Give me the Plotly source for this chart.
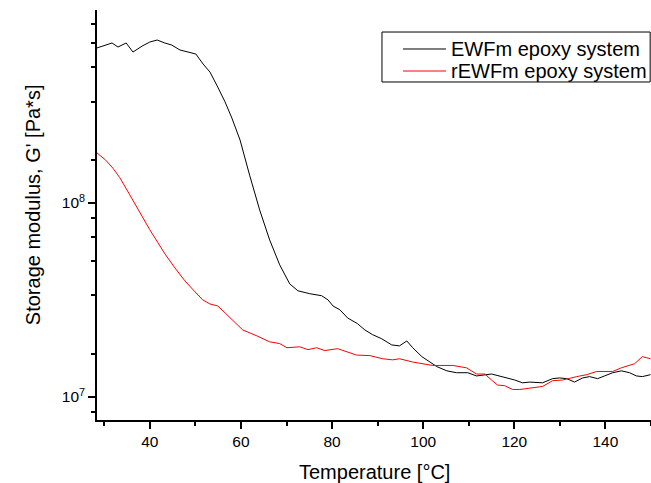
import plotly.graph_objects as go

# EWFm epoxy system
t_ewfm = [28.4, 30.2, 31.7, 33.0, 34.8, 36.3, 38.3, 40.0, 41.6, 43.3, 44.8, 46.6, 48.4, 50.1,
          51.7, 53.2, 54.9, 56.5, 58.0, 59.8, 61.9, 64.1, 66.3, 68.5, 70.7, 72.5, 75.1, 77.7,
          79.1, 80.2, 81.7, 83.4, 85.6, 87.2, 88.9, 90.9, 93.1, 94.8, 96.4, 97.7, 99.7, 101.4,
          103.0, 105.2, 107.3, 109.8, 111.7, 115.0, 117.4, 120.1, 121.8, 123.4, 126.2, 128.4,
          129.9, 131.5, 133.2, 135.0, 136.5, 138.3, 139.8, 141.6, 143.5, 145.3, 146.8, 148.1, 149.9]
g_ewfm = [6.30e8, 6.52e8, 6.68e8, 6.37e8, 6.68e8, 6.00e8, 6.44e8, 6.76e8, 6.92e8, 6.68e8, 6.52e8,
          6.15e8, 6.00e8, 5.86e8, 5.20e8, 4.73e8, 3.96e8, 3.32e8, 2.74e8, 2.11e8, 1.39e8, 9.2e7,
          6.44e7, 4.79e7, 3.82e7, 3.52e7, 3.40e7, 3.32e7, 3.16e7, 2.94e7, 2.81e7, 2.55e7, 2.38e7,
          2.21e7, 2.09e7, 1.99e7, 1.85e7, 1.83e7, 1.94e7, 1.79e7, 1.61e7, 1.51e7, 1.43e7, 1.36e7,
          1.33e7, 1.33e7, 1.28e7, 1.31e7, 1.27e7, 1.22e7, 1.18e7, 1.19e7, 1.18e7, 1.24e7, 1.25e7,
          1.24e7, 1.19e7, 1.25e7, 1.27e7, 1.24e7, 1.28e7, 1.33e7, 1.36e7, 1.33e7, 1.28e7, 1.27e7, 1.30e7]

# rEWFm epoxy system
t_rewfm = [28.4, 30.2, 31.9, 33.4, 35.6, 37.8, 40.0, 41.8, 43.3, 45.5, 47.7, 49.9, 51.6, 53.2,
           54.9, 56.5, 58.2, 60.4, 63.5, 66.3, 68.5, 70.1, 72.9, 74.7, 76.6, 78.4, 81.2, 83.2,
           85.4, 88.3, 91.1, 93.3, 94.8, 97.7, 99.9, 102.1, 106.5, 109.5, 111.7, 113.5, 115.0,
           116.3, 117.9, 119.6, 121.2, 124.0, 126.2, 128.4, 130.6, 133.7, 135.9, 138.1, 141.6,
           143.5, 146.4, 148.1, 149.9]
g_rewfm = [1.81e8, 1.67e8, 1.51e8, 1.35e8, 1.10e8, 8.87e7, 7.26e7, 6.22e7, 5.46e7, 4.62e7, 3.96e7,
           3.48e7, 3.16e7, 3.01e7, 2.94e7, 2.71e7, 2.49e7, 2.21e7, 2.06e7, 1.92e7, 1.88e7, 1.79e7,
           1.81e7, 1.75e7, 1.79e7, 1.73e7, 1.77e7, 1.71e7, 1.64e7, 1.63e7, 1.57e7, 1.55e7, 1.57e7,
           1.51e7, 1.48e7, 1.45e7, 1.45e7, 1.41e7, 1.31e7, 1.31e7, 1.22e7, 1.15e7, 1.14e7, 1.09e7,
           1.09e7, 1.11e7, 1.13e7, 1.21e7, 1.22e7, 1.27e7, 1.30e7, 1.35e7, 1.35e7, 1.41e7, 1.48e7,
           1.61e7, 1.57e7]

series_names = ["EWFm epoxy system", "rEWFm epoxy system"]
series_colors = ["black", "#ff0000"]

x_ticks = [40, 60, 80, 100, 120, 140]
x_minor = [30, 50, 70, 90, 110, 130, 150]
y_ticks = [1e7, 1e8]
y_ticktext = ["10<sup>7</sup>", "10<sup>8</sup>"]
y_minor = [8.333e6, 1.6667e7, 3.3333e7, 5e7, 6.6667e7, 8.3333e7,
           1.6667e8, 3.3333e8, 5e8, 6.6667e8, 8.3333e8]

FONT = "Liberation Sans, Arial, sans-serif"

fig = go.Figure()
for tx, gy, nm, col in [(t_ewfm, g_ewfm, series_names[0], series_colors[0]),
                        (t_rewfm, g_rewfm, series_names[1], series_colors[1])]:
    fig.add_trace(go.Scatter(x=tx, y=gy, mode="lines", name=nm,
                             line=dict(color=col, width=1), showlegend=False))

# Legend drawn as box + sample lines + text (paper coordinates)
lg_x0, lg_x1, lg_y0, lg_y1 = 0.5144, 0.9985, 0.8244, 0.9463
row_y = [0.9049, 0.8512]
fig.add_shape(type="rect", xref="paper", yref="paper", x0=lg_x0, x1=lg_x1, y0=lg_y0, y1=lg_y1,
              line=dict(color="black", width=1), fillcolor="white", layer="above")
for ry, nm, col in zip(row_y, series_names, series_colors):
    fig.add_shape(type="line", xref="paper", yref="paper", x0=0.5523, x1=0.630, y0=ry, y1=ry,
                  line=dict(color=col, width=1), layer="above")
    fig.add_annotation(xref="paper", yref="paper", x=0.6354, y=ry, text=nm, showarrow=False,
                       xanchor="left", yanchor="middle",
                       font=dict(size=20, family=FONT, color="black"))

# Axis titles
fig.add_annotation(xref="paper", yref="paper", x=0.5, y=-0.1268, text="Temperature [°C]",
                   showarrow=False, xanchor="center", yanchor="middle",
                   font=dict(size=20, family=FONT, color="black"))
fig.add_annotation(xref="paper", yref="paper", x=-0.1155, y=0.524, text="Storage modulus, G' [Pa*s]",
                   showarrow=False, xanchor="center", yanchor="middle", textangle=-90,
                   font=dict(size=20, family=FONT, color="black"))

fig.update_layout(
    width=651, height=483,
    margin=dict(l=97, r=0, t=10, b=63, autoexpand=False),
    paper_bgcolor="white", plot_bgcolor="white",
    font=dict(family=FONT, color="black"),
    showlegend=False,
    xaxis=dict(range=[28.4, 150], showgrid=False, zeroline=False, automargin=False,
               showline=True, linecolor="black", linewidth=1.5,
               ticks="outside", ticklen=7, tickwidth=1.5, tickcolor="black",
               tickmode="array", tickvals=x_ticks,
               tickfont=dict(size=15.5, family=FONT),
               minor=dict(tickmode="array", tickvals=x_minor, ticks="outside",
                          ticklen=4, tickwidth=1.5, tickcolor="black", showgrid=False)),
    yaxis=dict(type="log", range=[6.88, 8.995], showgrid=False, zeroline=False, automargin=False,
               showline=True, linecolor="black", linewidth=1.5,
               ticks="outside", ticklen=7, tickwidth=1.5, tickcolor="black",
               tickmode="array", tickvals=y_ticks, ticktext=y_ticktext,
               tickfont=dict(size=15.5, family=FONT),
               minor=dict(tickmode="array", tickvals=y_minor, ticks="outside",
                          ticklen=4, tickwidth=1.5, tickcolor="black", showgrid=False)),
)

page_fix = ("document.documentElement.style.overflow='hidden';"
            "document.body.style.overflow='hidden';"
            "document.body.style.margin='0';document.body.style.padding='0';")
fig.write_html("out.html", post_script=page_fix, config={"displayModeBar": False})
